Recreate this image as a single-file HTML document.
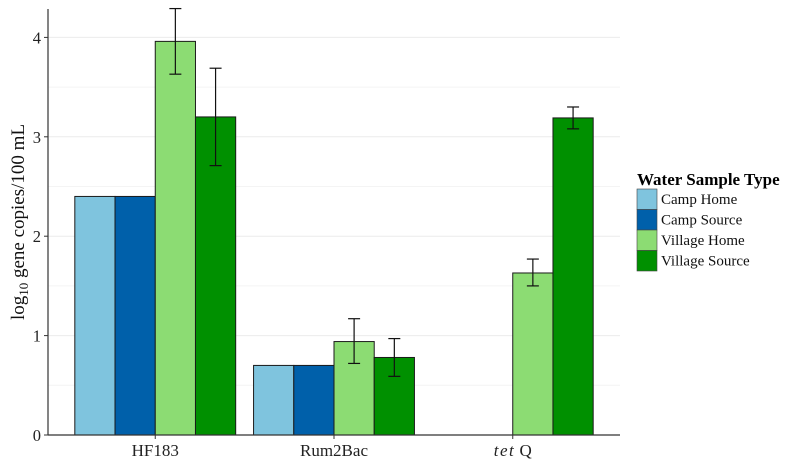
<!DOCTYPE html>
<html><head><meta charset="utf-8"><style>
html,body{margin:0;padding:0;background:#fff;}
svg{display:block;font-family:"Liberation Serif",serif;}
</style></head><body>
<svg id="chart" width="796" height="466" viewBox="0 0 796 466" xmlns="http://www.w3.org/2000/svg">
<g id="grid"></g>
<g id="bars"></g>
<g id="errs"></g>
<g id="axes"></g>
<text transform="translate(24,222) rotate(-90)" text-anchor="middle" font-size="19" fill="#111">log<tspan font-size="13" dy="4">10</tspan><tspan dy="-4"> gene copies/100 mL</tspan></text>
<g>
<text x="637" y="185" font-size="17" font-weight="bold" fill="#000">Water Sample Type</text>
<g id="legend-items"></g>
</g>
</svg>
<script>
const categories = ["HF183", "Rum2Bac", "tetQ"];
const seriesNames = ["Camp Home", "Camp Source", "Village Home", "Village Source"];
const seriesColors = ["#7fc4de", "#0060aa", "#8cdc73", "#009000"];
const campHome = [2.4, 0.7, null];
const campSource = [2.4, 0.7, null];
const villageHome = [3.96, 0.94, 1.63];
const villageSource = [3.2, 0.78, 3.19];
const villageHomeLow = [3.63, 0.72, 1.5];
const villageHomeHigh = [4.29, 1.17, 1.77];
const villageSourceLow = [2.71, 0.59, 3.08];
const villageSourceHigh = [3.69, 0.97, 3.3];
const yTicks = [0, 1, 2, 3, 4];
const yMinor = [0.5, 1.5, 2.5, 3.5];

const NS = "http://www.w3.org/2000/svg";
const L = 48, R = 620, TOP = 9, Y0 = 435, UNIT = 99.4;
const y = v => Y0 - v * UNIT;
const step = (R - L) / (categories.length + 0.2);
const xc = i => L + (i + 0.6) * step;
const bw = step * 0.9 / 4;
function mk(tag, attrs, parent) {
  const e = document.createElementNS(NS, tag);
  for (const k in attrs) e.setAttribute(k, attrs[k]);
  parent.appendChild(e); return e;
}
const grid = document.getElementById("grid");
yMinor.concat(yTicks).forEach(v => {
  const l = mk("line", {x1: L, x2: R, y1: y(v), y2: y(v), stroke: yTicks.includes(v) ? "#ececec" : "#f4f4f4", "stroke-width": 1}, grid);
  
  
});
const series = [campHome, campSource, villageHome, villageSource];
const lows = [null, null, villageHomeLow, villageSourceLow];
const highs = [null, null, villageHomeHigh, villageSourceHigh];
const barsG = document.getElementById("bars"), errG = document.getElementById("errs");
categories.forEach((c, i) => {
  series.forEach((s, j) => {
    const v = s[i];
    if (v == null) return;
    const x0 = xc(i) - 2 * bw + j * bw;
    const r = mk("rect", {x: x0, y: y(v), width: bw, height: y(0) - y(v), fill: seriesColors[j], stroke: "#1a1a1a", "stroke-width": 1}, barsG);
    
    
    if (lows[j] && lows[j][i] != null) {
      const cx = x0 + bw / 2, lo = y(lows[j][i]), hi = y(highs[j][i]);
      const g = mk("g", {stroke: "#111", "stroke-width": 1.2}, errG);
      
      
      mk("line", {x1: cx, x2: cx, y1: lo, y2: hi}, g);
      mk("line", {x1: cx - 6, x2: cx + 6, y1: lo, y2: lo}, g);
      mk("line", {x1: cx - 6, x2: cx + 6, y1: hi, y2: hi}, g);
    }
  });
});
const ax = document.getElementById("axes");
mk("line", {x1: L, x2: L, y1: TOP, y2: Y0, stroke: "#333", "stroke-width": 1.2}, ax);
mk("line", {x1: L, x2: R, y1: Y0, y2: Y0, stroke: "#333", "stroke-width": 1.2}, ax);
yTicks.forEach(v => {
  mk("line", {x1: L - 4, x2: L, y1: y(v), y2: y(v), stroke: "#333"}, ax);
  const t = mk("text", {x: L - 7, y: y(v) + 6, "text-anchor": "end", "font-size": 16.5, fill: "#222"}, ax);
  t.textContent = v;
  
  
});
categories.forEach((c, i) => {
  mk("line", {x1: xc(i), x2: xc(i), y1: Y0, y2: Y0 + 4, stroke: "#333"}, ax);
  const t = mk("text", {x: xc(i), y: Y0 + 21, "text-anchor": "middle", "font-size": 17, fill: "#222"}, ax);
  if (c === "tetQ") {
    const a = mk("tspan", {"font-style": "italic", "letter-spacing": "1.5"}, t); a.textContent = "tet";
    const b = mk("tspan", {}, t); b.textContent = " Q";
  } else t.textContent = c;
  
  
});
const li = document.getElementById("legend-items");
seriesNames.forEach((n, j) => {
  const yy = 189 + j * 20.5;
  const g = mk("g", {}, li);
  
  
  mk("rect", {x: 637, y: yy, width: 20, height: 20.5, fill: seriesColors[j], stroke: "#444", "stroke-width": 0.6}, g);
  const t = mk("text", {x: 661, y: yy + 15, "font-size": 15, fill: "#111"}, g);
  t.textContent = n;
});
</script>
</body></html>
